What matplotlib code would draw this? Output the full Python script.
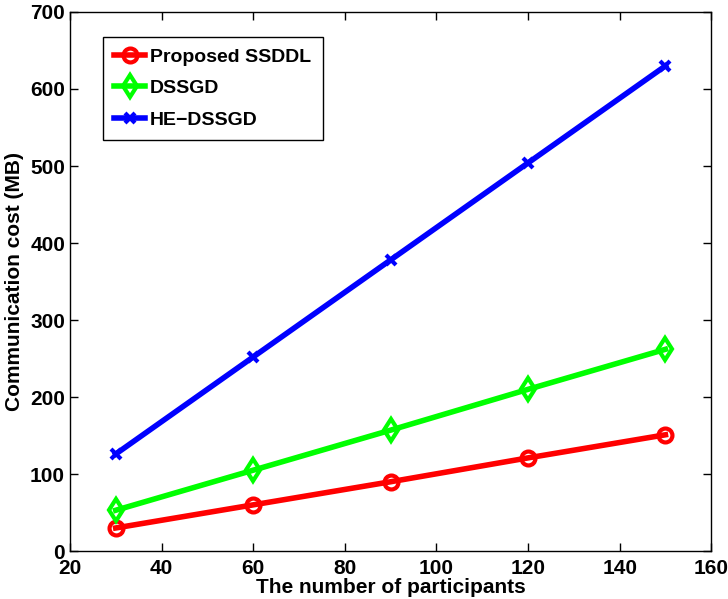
import numpy as np
import matplotlib
matplotlib.use('Agg')
import matplotlib.pyplot as plt

plt.rcParams['font.family'] = ['Liberation Sans', 'DejaVu Sans']
plt.rcParams['font.weight'] = 'bold'

participants = [30, 60, 90, 120, 150]
cost_ssddl = [30, 60, 90, 121, 151]
cost_dssgd = [53, 105, 157, 210, 262]
cost_he = [126, 252, 378, 504, 630]

fig = plt.figure(figsize=(7.28, 5.99), dpi=100)
ax = fig.add_axes([0.096, 0.080, 0.881, 0.900])

ax.plot(participants, cost_ssddl, '-o', color='#ff0000', lw=4, ms=10, mfc='none', mew=3, label='Proposed SSDDL')
ax.plot(participants, cost_dssgd, '-d', color='#00ff00', lw=4, ms=11.5, mfc='none', mew=3, label='DSSGD')
ax.plot(participants, cost_he, '-x', color='#0000ff', lw=4, ms=7, mew=3, label='HE\u2212DSSGD')

ax.set_xlim(20, 160)
ax.set_ylim(0, 700)
ax.set_xticks(np.arange(20, 161, 20))
ax.set_yticks(np.arange(0, 701, 100))
ax.tick_params(direction='in', labelsize=15, length=6, width=1, top=True, right=True)
ax.tick_params(axis='x', pad=6)
for s in ax.spines.values():
    s.set_linewidth(1)
ax.set_xlabel('The number of participants', fontsize=15, fontweight='bold', labelpad=0)
ax.set_ylabel('Communication cost (MB)', fontsize=15, fontweight='bold', labelpad=4)

leg = ax.legend(loc='upper left', bbox_to_anchor=(0.051, 0.954), fontsize=14, fancybox=False,
                edgecolor='black', framealpha=1, handlelength=1.6, handletextpad=0.25,
                borderpad=0.6, labelspacing=0.7, borderaxespad=0)
leg.get_frame().set_linewidth(1)

fig.savefig('out.png', dpi=100)
